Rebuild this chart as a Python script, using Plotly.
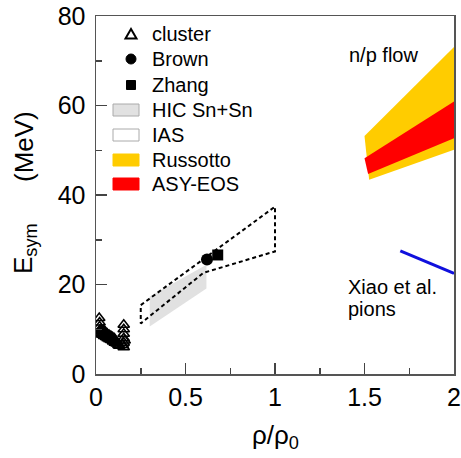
import plotly.graph_objects as go

# ---------------- data ----------------
cluster_x = [0.018, 0.02, 0.02, 0.021, 0.022, 0.025, 0.028, 0.03, 0.035, 0.04, 0.042, 0.045, 0.05,
             0.053, 0.055, 0.06, 0.063, 0.065, 0.07, 0.073, 0.075, 0.08, 0.083, 0.085, 0.09,
             0.093, 0.095, 0.10, 0.103, 0.105, 0.11, 0.115, 0.12, 0.125, 0.13,
             0.155, 0.155, 0.155, 0.155, 0.155, 0.155, 0.15, 0.16]
cluster_y = [12.5, 11.5, 10.6, 9.8, 9.2, 9.0, 9.9, 9.6, 8.8, 9.2, 9.8, 8.5, 9.0,
             9.4, 8.3, 8.7, 9.0, 8.0, 8.4, 8.7, 7.8, 8.2, 8.5, 7.6, 7.9,
             8.2, 7.3, 7.6, 7.9, 7.0, 7.2, 6.8, 6.9, 6.5, 6.3,
             11.0, 10.0, 9.0, 8.0, 7.0, 6.0, 6.5, 7.5]

brown_x = [0.62]
brown_y = [25.6]
zhang_x = [0.68]
zhang_y = [26.6]

hic_x = [0.30, 0.30, 0.617, 0.617]
hic_y = [10.6, 17.3, 24.4, 19.1]

ias_x = [0.25, 1.0, 1.0, 0.6, 0.25, 0.25]
ias_y = [15.4, 37.4, 27.4, 22.6, 11.3, 15.4]

russotto_x = [1.5, 2.0, 2.0, 1.526]
russotto_y = [53.2, 73.1, 50.1, 43.4]

asyeos_x = [1.5, 2.0, 2.0, 1.52]
asyeos_y = [48.2, 60.9, 52.7, 44.7]

xiao_x = [1.7, 2.0]
xiao_y = [27.5, 22.5]

legend_labels = ["cluster", "Brown", "Zhang", "HIC Sn+Sn", "IAS", "Russotto", "ASY-EOS"]

x_ticks = [0, 0.5, 1, 1.5, 2]
x_ticklabels = ["0", "0.5", "1", "1.5", "2"]
y_ticks = [0, 20, 40, 60, 80]

FONT = "Liberation Sans, Arial, Helvetica, sans-serif"
YELLOW = "#ffcc00"
RED = "#ff0000"
GRAY = "#e1e1e1"

fig = go.Figure()

fig.add_trace(go.Scatter(x=hic_x, y=hic_y, fill="toself", mode="none",
                         fillcolor=GRAY, showlegend=False, hoverinfo="skip"))
fig.add_trace(go.Scatter(x=ias_x, y=ias_y, mode="lines",
                         line=dict(color="black", width=2, dash="4px,3px"),
                         showlegend=False))
fig.add_trace(go.Scatter(x=russotto_x, y=russotto_y, fill="toself", mode="none",
                         fillcolor=YELLOW, showlegend=False))
fig.add_trace(go.Scatter(x=asyeos_x, y=asyeos_y, fill="toself", mode="none",
                         fillcolor=RED, showlegend=False))
fig.add_trace(go.Scatter(x=xiao_x, y=xiao_y, mode="lines",
                         line=dict(color="#1010dd", width=3), showlegend=False))
fig.add_trace(go.Scatter(x=cluster_x, y=cluster_y, mode="markers",
                         marker=dict(symbol="triangle-up-open", size=10, color="black",
                                     line=dict(width=1.6, color="black")),
                         showlegend=False))
fig.add_trace(go.Scatter(x=brown_x, y=brown_y, mode="markers",
                         marker=dict(symbol="circle", size=12, color="black"),
                         showlegend=False))
fig.add_trace(go.Scatter(x=zhang_x, y=zhang_y, mode="markers",
                         marker=dict(symbol="square", size=11, color="black"),
                         showlegend=False))

# ---- layout geometry (page pixels; page margin removed by post_script) ----
W, H = 461, 458
PLOT_L, PLOT_R, PLOT_T, PLOT_B = 96, 454, 16, 374   # plot area in page pixels
L, T = PLOT_L, PLOT_T
R, B = W - PLOT_R, H - PLOT_B
PW, PH = PLOT_R - PLOT_L, PLOT_B - PLOT_T


def px(x):
    return (x - PLOT_L) / PW


def py(y):
    return (PLOT_B - y) / PH


shapes = []
annotations = []

# manual legend
rows = [34, 59, 85, 110, 135, 160, 184]
sym_cx = 131
box_x0, box_x1 = 113, 139
text_x = 150
for lab, ry in zip(legend_labels, rows):
    annotations.append(dict(x=px(text_x), y=py(ry), xref="paper", yref="paper",
                            text=lab, showarrow=False, xanchor="left", yanchor="middle",
                            font=dict(size=20, color="black", family=FONT)))

r0 = rows[0]
shapes.append(dict(type="path", xref="paper", yref="paper",
                   path=f"M {px(sym_cx)},{py(r0-5)} L {px(sym_cx-5.5)},{py(r0+4.5)} L {px(sym_cx+5.5)},{py(r0+4.5)} Z",
                   line=dict(color="black", width=2), fillcolor="rgba(0,0,0,0)"))
r1 = rows[1]
shapes.append(dict(type="circle", xref="paper", yref="paper",
                   x0=px(sym_cx-5), x1=px(sym_cx+5), y0=py(r1+5), y1=py(r1-5),
                   line=dict(color="black", width=1), fillcolor="black"))
r2 = rows[2]
shapes.append(dict(type="rect", xref="paper", yref="paper",
                   x0=px(sym_cx-4.5), x1=px(sym_cx+4.5), y0=py(r2+4.5), y1=py(r2-4.5),
                   line=dict(color="black", width=1), fillcolor="black"))
box_fills = [GRAY, "white", YELLOW, RED]
box_lines = ["#aaaaaa", "#aaaaaa", YELLOW, RED]
for fc, lc, ry in zip(box_fills, box_lines, rows[3:]):
    shapes.append(dict(type="rect", xref="paper", yref="paper",
                       x0=px(box_x0), x1=px(box_x1), y0=py(ry + 6), y1=py(ry - 6),
                       line=dict(color=lc, width=1), fillcolor=fc))

# text labels in plot
annotations.append(dict(x=1.4, y=71.3, xref="x", yref="y", text="n/p flow", showarrow=False,
                        xanchor="left", yanchor="middle", font=dict(size=20, color="black", family=FONT)))
annotations.append(dict(x=1.398, y=19.4, xref="x", yref="y", text="Xiao et al.", showarrow=False,
                        xanchor="left", yanchor="middle", font=dict(size=20, color="black", family=FONT)))
annotations.append(dict(x=1.398, y=14.5, xref="x", yref="y", text="pions", showarrow=False,
                        xanchor="left", yanchor="middle", font=dict(size=20, color="black", family=FONT)))

# axis titles
annotations.append(dict(x=px(24), y=py(249), xref="paper", yref="paper", text="E<sub>sym</sub>",
                        showarrow=False, textangle=-90, xanchor="center", yanchor="middle",
                        font=dict(size=26, color="black", family=FONT)))
annotations.append(dict(x=px(24), y=py(147), xref="paper", yref="paper", text="(MeV)",
                        showarrow=False, textangle=-90, xanchor="center", yanchor="middle",
                        font=dict(size=26, color="black", family=FONT)))
annotations.append(dict(x=px(275), y=py(436), xref="paper", yref="paper", text="ρ/ρ<sub>0</sub>",
                        showarrow=False, xanchor="center", yanchor="middle",
                        font=dict(size=26, color="black", family=FONT)))

axis_common = dict(showgrid=False, zeroline=False, showline=True, linecolor="#555555",
                   linewidth=1.5, mirror=True, ticks="inside", ticklen=11, tickwidth=1.5,
                   tickcolor="#444444", tickfont=dict(size=25, color="black", family=FONT),
                   automargin=False, ticklabeloverflow="allow")

fig.update_xaxes(range=[0, 2], tickvals=x_ticks, ticktext=x_ticklabels,
                 minor=dict(ticks="inside", ticklen=6, tickwidth=1.5, tickcolor="#444444", dtick=0.25),
                 **axis_common)
fig.update_yaxes(range=[0, 80], tickvals=y_ticks, ticklabelstandoff=4,
                 minor=dict(ticks="inside", ticklen=6, tickwidth=1.5, tickcolor="#444444", dtick=10),
                 **axis_common)

fig.update_layout(width=W, height=H, margin=dict(l=L, r=R, t=T, b=B, pad=0, autoexpand=False),
                  paper_bgcolor="white", plot_bgcolor="white",
                  showlegend=False, shapes=shapes, annotations=annotations,
                  font=dict(family=FONT, color="black"), hovermode=False)

fig.write_html("out.html",
               config={"displayModeBar": False, "staticPlot": True},
               post_script="document.body.style.margin='0';document.body.style.overflow='hidden';")
